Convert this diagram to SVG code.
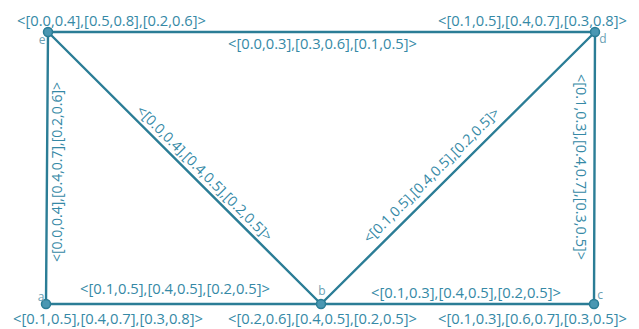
<svg xmlns="http://www.w3.org/2000/svg" width="639" height="329" viewBox="0 0 639 329">
<style>
.e{stroke:#2b7d96;stroke-width:2.4;fill:none;stroke-linecap:round}
.n{fill:#4a97b2;stroke:#2b7d96;stroke-width:1.5}
.t{font-family:"Open Sans","Liberation Sans",sans-serif;font-size:14px;fill:#3589a6;text-anchor:middle;dominant-baseline:central}
.l{font-family:"Open Sans","Liberation Sans",sans-serif;font-size:12px;fill:#6a9fb3;text-anchor:middle;dominant-baseline:central}
</style>
<rect width="639" height="329" fill="#ffffff"/>
<g id="connectors">
<line class="e" x1="48" y1="32" x2="595" y2="32"/>
<line class="e" x1="48" y1="32" x2="46" y2="304"/>
<line class="e" x1="48" y1="32" x2="321" y2="304"/>
<line class="e" x1="595" y1="32" x2="321" y2="304"/>
<line class="e" x1="595" y1="32" x2="594" y2="304"/>
<line class="e" x1="46" y1="304" x2="594" y2="304"/>
<text class="t" x="322.5" y="43" textLength="189" lengthAdjust="spacingAndGlyphs">&lt;[0.0,0.3],[0.3,0.6],[0.1,0.5]&gt;</text>
<text class="t" x="175" y="288" textLength="190" lengthAdjust="spacingAndGlyphs">&lt;[0.1,0.5],[0.4,0.5],[0.2,0.5]&gt;</text>
<text class="t" x="466" y="292" textLength="190" lengthAdjust="spacingAndGlyphs">&lt;[0.1,0.3],[0.4,0.5],[0.2,0.5]&gt;</text>
<text class="t" transform="translate(56.5,172) rotate(-90)" x="0" y="0" textLength="180" lengthAdjust="spacingAndGlyphs">&lt;[0.0,0.4],[0.4,0.7],[0.2,0.6]&gt;</text>
<text class="t" transform="translate(581,167) rotate(90)" x="0" y="0" textLength="186" lengthAdjust="spacingAndGlyphs">&lt;[0.1,0.3],[0.4,0.7],[0.3,0.5]&gt;</text>
<text class="t" transform="translate(205,173) rotate(44.9)" x="0" y="0" textLength="185" lengthAdjust="spacingAndGlyphs">&lt;[0.0,0.4],[0.4,0.5],[0.2,0.5]&gt;</text>
<text class="t" transform="translate(431,175) rotate(-44.8)" x="0" y="0" textLength="185" lengthAdjust="spacingAndGlyphs">&lt;[0.1,0.5],[0.4,0.5],[0.2,0.5]&gt;</text>
</g>
<g id="node-e">
<circle class="n" cx="48" cy="32" r="4.5"/>
<text class="l" x="42" y="39">e</text>
<text class="t" x="111.5" y="20" textLength="189" lengthAdjust="spacingAndGlyphs">&lt;[0.0,0.4],[0.5,0.8],[0.2,0.6]&gt;</text>
</g>
<g id="node-d">
<circle class="n" cx="595" cy="32" r="4.5"/>
<text class="l" x="603" y="38">d</text>
<text class="t" x="532.5" y="20" textLength="189" lengthAdjust="spacingAndGlyphs">&lt;[0.1,0.5],[0.4,0.7],[0.3,0.8]&gt;</text>
</g>
<g id="node-a">
<circle class="n" cx="46" cy="304" r="4.5"/>
<text class="l" x="41" y="296">a</text>
<text class="t" x="108" y="318" textLength="190" lengthAdjust="spacingAndGlyphs">&lt;[0.1,0.5],[0.4,0.7],[0.3,0.8]&gt;</text>
</g>
<g id="node-b">
<circle class="n" cx="321" cy="304" r="4.5"/>
<text class="l" x="322" y="290">b</text>
<text class="t" x="322.5" y="318" textLength="189" lengthAdjust="spacingAndGlyphs">&lt;[0.2,0.6],[0.4,0.5],[0.2,0.5]&gt;</text>
</g>
<g id="node-c">
<circle class="n" cx="594" cy="304" r="4.5"/>
<text class="l" x="600" y="294">c</text>
<text class="t" x="532.5" y="318" textLength="189" lengthAdjust="spacingAndGlyphs">&lt;[0.1,0.3],[0.6,0.7],[0.3,0.5]&gt;</text>
</g>
</svg>
